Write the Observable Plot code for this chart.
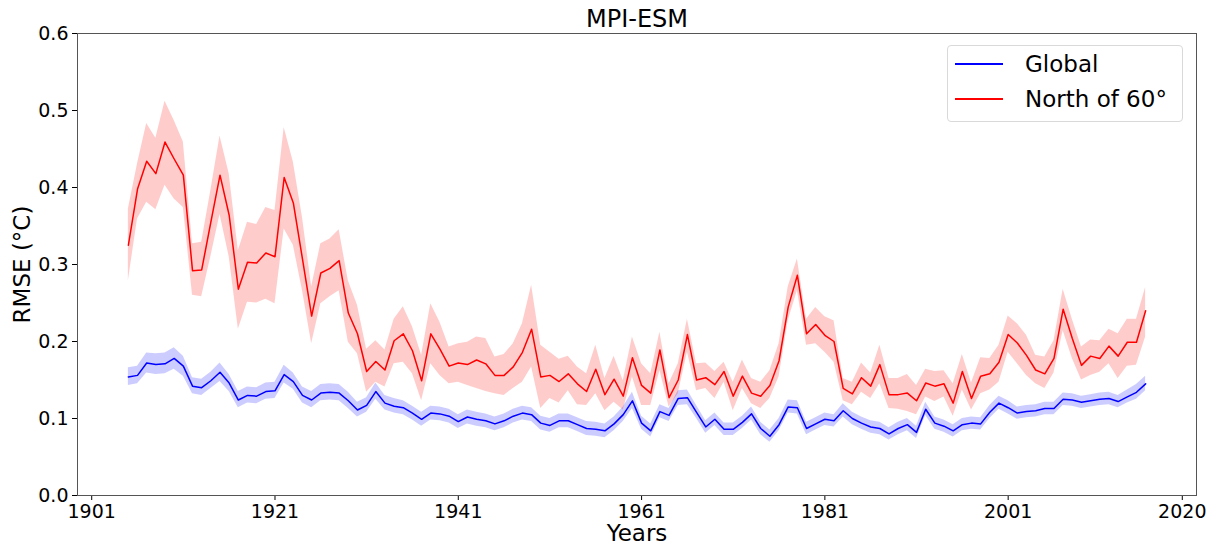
<!DOCTYPE html>
<html><head><meta charset="utf-8">
<script src="https://cdn.jsdelivr.net/npm/d3@7"></script>
<script src="https://cdn.jsdelivr.net/npm/@observablehq/plot@0.6"></script>
<style>
body{margin:0;background:#fff;font-family:"DejaVu Sans",sans-serif;}
#wrap{position:relative;width:1215px;height:547px;}
#legend{position:absolute;left:947px;top:45px;width:236px;height:77px;border:1px solid #d9d9d9;border-radius:4px;background:rgba(255,255,255,0.8);box-sizing:border-box;}
.row{position:absolute;left:0;height:30px;display:flex;align-items:center;font-size:23px;color:#000;white-space:nowrap;}
.sw{width:48px;height:1.5px;margin-left:7px;margin-right:22px;}
</style></head><body><div id="wrap"><div id="legend"></div></div>
<script>
const title = "MPI-ESM";
const xLabel = "Years";
const yLabel = "RMSE (°C)";
const seriesNames = ["Global", "North of 60°"];
const seriesColors = ["#0000ff", "#ff0000"];
const xTicks = [1901, 1921, 1941, 1961, 1981, 2001, 2020];
const yTicks = [0, 0.1, 0.2, 0.3, 0.4, 0.5, 0.6];
const years = d3.range(1905, 2017);

const north = [0.325,0.398,0.434,0.418,0.459,0.437,0.416,0.292,0.293,0.355,0.416,0.364,0.268,0.303,0.302,0.315,0.310,0.413,0.380,0.307,
0.233,0.289,0.295,0.305,0.237,0.210,0.161,0.174,0.163,0.201,0.210,0.188,0.149,0.210,0.190,0.168,0.172,0.170,0.176,0.171,
0.156,0.156,0.167,0.186,0.216,0.154,0.156,0.148,0.158,0.145,0.135,0.164,0.131,0.151,0.129,0.179,0.143,0.133,0.189,0.127,
0.150,0.209,0.150,0.153,0.144,0.161,0.129,0.155,0.133,0.129,0.143,0.175,0.245,0.286,0.210,0.222,0.208,0.200,0.139,0.132,
0.153,0.142,0.170,0.131,0.131,0.133,0.123,0.146,0.142,0.145,0.120,0.161,0.126,0.155,0.158,0.173,0.209,0.198,0.182,0.163,
0.158,0.178,0.242,0.204,0.169,0.181,0.178,0.194,0.181,0.199,0.199,0.240];
const northHi = [0.372,0.431,0.483,0.464,0.512,0.487,0.459,0.327,0.329,0.396,0.467,0.418,0.318,0.355,0.352,0.374,0.370,0.478,0.433,0.361,
0.271,0.327,0.333,0.345,0.279,0.247,0.190,0.201,0.189,0.229,0.245,0.219,0.182,0.249,0.225,0.193,0.197,0.199,0.206,0.204,
0.180,0.183,0.197,0.223,0.273,0.195,0.186,0.177,0.181,0.167,0.158,0.195,0.152,0.181,0.149,0.206,0.171,0.158,0.212,0.145,
0.171,0.229,0.171,0.172,0.161,0.173,0.147,0.176,0.152,0.147,0.162,0.197,0.271,0.307,0.229,0.244,0.232,0.227,0.152,0.147,
0.172,0.159,0.195,0.152,0.152,0.157,0.143,0.164,0.161,0.162,0.145,0.183,0.146,0.179,0.178,0.195,0.233,0.223,0.208,0.182,
0.180,0.201,0.268,0.229,0.193,0.202,0.201,0.216,0.210,0.229,0.229,0.270];
const northLo = [0.279,0.359,0.381,0.371,0.403,0.385,0.374,0.260,0.258,0.310,0.365,0.310,0.216,0.251,0.250,0.255,0.249,0.346,0.325,0.266,
0.197,0.249,0.258,0.266,0.199,0.184,0.134,0.147,0.141,0.171,0.173,0.158,0.123,0.171,0.156,0.145,0.147,0.143,0.139,0.135,
0.132,0.130,0.139,0.147,0.167,0.113,0.126,0.120,0.136,0.118,0.117,0.132,0.110,0.121,0.111,0.154,0.117,0.117,0.162,0.115,
0.132,0.186,0.136,0.139,0.126,0.147,0.110,0.139,0.119,0.113,0.126,0.154,0.227,0.266,0.195,0.197,0.186,0.173,0.123,0.118,
0.134,0.126,0.145,0.113,0.112,0.109,0.105,0.128,0.122,0.128,0.103,0.137,0.111,0.132,0.137,0.147,0.186,0.171,0.156,0.145,
0.139,0.159,0.214,0.178,0.150,0.156,0.160,0.171,0.152,0.168,0.169,0.206];

const global = [0.154,0.156,0.172,0.170,0.171,0.178,0.168,0.142,0.140,0.149,0.160,0.146,0.124,0.130,0.129,0.135,0.136,0.157,0.148,0.130,
0.124,0.133,0.134,0.133,0.123,0.111,0.117,0.135,0.120,0.116,0.114,0.107,0.099,0.107,0.106,0.103,0.096,0.102,0.099,0.097,
0.093,0.097,0.103,0.107,0.105,0.094,0.091,0.097,0.097,0.092,0.087,0.086,0.084,0.093,0.105,0.123,0.094,0.084,0.109,0.104,
0.126,0.127,0.108,0.089,0.099,0.086,0.086,0.095,0.106,0.087,0.077,0.092,0.115,0.114,0.087,0.093,0.099,0.097,0.110,0.100,
0.094,0.089,0.087,0.080,0.087,0.092,0.082,0.112,0.094,0.090,0.084,0.092,0.094,0.093,0.108,0.120,0.114,0.107,0.109,0.110,
0.113,0.113,0.125,0.124,0.121,0.123,0.125,0.126,0.122,0.128,0.134,0.145];
const globalHi = [0.166,0.168,0.185,0.184,0.185,0.192,0.181,0.153,0.151,0.160,0.172,0.157,0.135,0.141,0.140,0.146,0.147,0.169,0.159,0.141,
0.135,0.144,0.145,0.144,0.134,0.121,0.127,0.146,0.130,0.126,0.123,0.116,0.108,0.116,0.115,0.112,0.105,0.111,0.108,0.106,
0.102,0.106,0.112,0.116,0.114,0.103,0.100,0.106,0.106,0.101,0.096,0.095,0.093,0.102,0.115,0.134,0.103,0.093,0.118,0.113,
0.136,0.137,0.117,0.097,0.107,0.094,0.094,0.103,0.115,0.095,0.085,0.100,0.124,0.123,0.095,0.101,0.107,0.105,0.119,0.108,
0.102,0.097,0.095,0.088,0.095,0.100,0.090,0.121,0.102,0.098,0.092,0.100,0.102,0.101,0.117,0.129,0.123,0.115,0.117,0.118,
0.121,0.121,0.133,0.132,0.129,0.131,0.133,0.134,0.130,0.137,0.144,0.155];
const globalLo = [0.143,0.145,0.159,0.157,0.158,0.164,0.155,0.132,0.130,0.139,0.148,0.135,0.114,0.120,0.119,0.125,0.126,0.146,0.138,0.120,
0.114,0.123,0.124,0.123,0.113,0.102,0.108,0.125,0.111,0.107,0.105,0.098,0.090,0.098,0.097,0.094,0.087,0.093,0.090,0.088,
0.084,0.088,0.094,0.098,0.096,0.085,0.082,0.088,0.088,0.083,0.078,0.077,0.075,0.084,0.096,0.113,0.086,0.076,0.101,0.096,
0.117,0.118,0.100,0.081,0.091,0.078,0.078,0.087,0.098,0.079,0.069,0.084,0.107,0.106,0.079,0.085,0.091,0.089,0.102,0.092,
0.086,0.081,0.079,0.072,0.079,0.084,0.074,0.104,0.086,0.082,0.076,0.084,0.086,0.085,0.100,0.112,0.106,0.099,0.101,0.102,
0.105,0.105,0.117,0.116,0.113,0.115,0.117,0.118,0.114,0.120,0.125,0.136];

const data = years.map((year, i) => ({
  year, north: north[i], northHi: northHi[i], northLo: northLo[i],
  global: global[i], globalHi: globalHi[i], globalLo: globalLo[i]
}));

const chart = Plot.plot({
  width: 1215, height: 547,
  marginLeft: 77, marginRight: 19, marginTop: 33, marginBottom: 52,
  style: {fontFamily: "'DejaVu Sans', sans-serif", fontSize: "19px", color: "#000", background: "#fff"},
  x: {domain: [1899.45, 2021.55], ticks: xTicks, tickFormat: d => String(d), label: null, tickSize: 5, tickPadding: 4},
  y: {domain: [0, 0.6], ticks: yTicks, tickFormat: d3.format(".1f"), label: null, tickSize: 5, tickPadding: 4},
  marks: [
    Plot.areaY(data, {x: "year", y1: "globalLo", y2: "globalHi", fill: seriesColors[0], fillOpacity: 0.2}),
    Plot.areaY(data, {x: "year", y1: "northLo", y2: "northHi", fill: seriesColors[1], fillOpacity: 0.2}),
    Plot.lineY(data, {x: "year", y: "global", stroke: seriesColors[0], strokeWidth: 1.5}),
    Plot.lineY(data, {x: "year", y: "north", stroke: seriesColors[1], strokeWidth: 1.5}),
    Plot.frame({stroke: "#555"}),
    Plot.text([title], {frameAnchor: "top", lineAnchor: "middle", dy: -14, fontSize: 24}),
    Plot.text([xLabel], {frameAnchor: "bottom", lineAnchor: "middle", dy: 38, fontSize: 23}),
    Plot.text([yLabel], {frameAnchor: "left", textAnchor: "middle", lineAnchor: "middle", dx: -55, rotate: -90, fontSize: 23})
  ]
});
const wrap = document.getElementById("wrap");
wrap.insertBefore(chart, wrap.firstChild);

const legend = d3.select("#legend");
seriesNames.forEach((name, i) => {
  const row = legend.append("div").attr("class", "row").style("top", (3 + i * 35) + "px");
  row.append("div").attr("class", "sw").style("background-color", seriesColors[i]);
  row.append("span").text(name);
});
</script></body></html>
